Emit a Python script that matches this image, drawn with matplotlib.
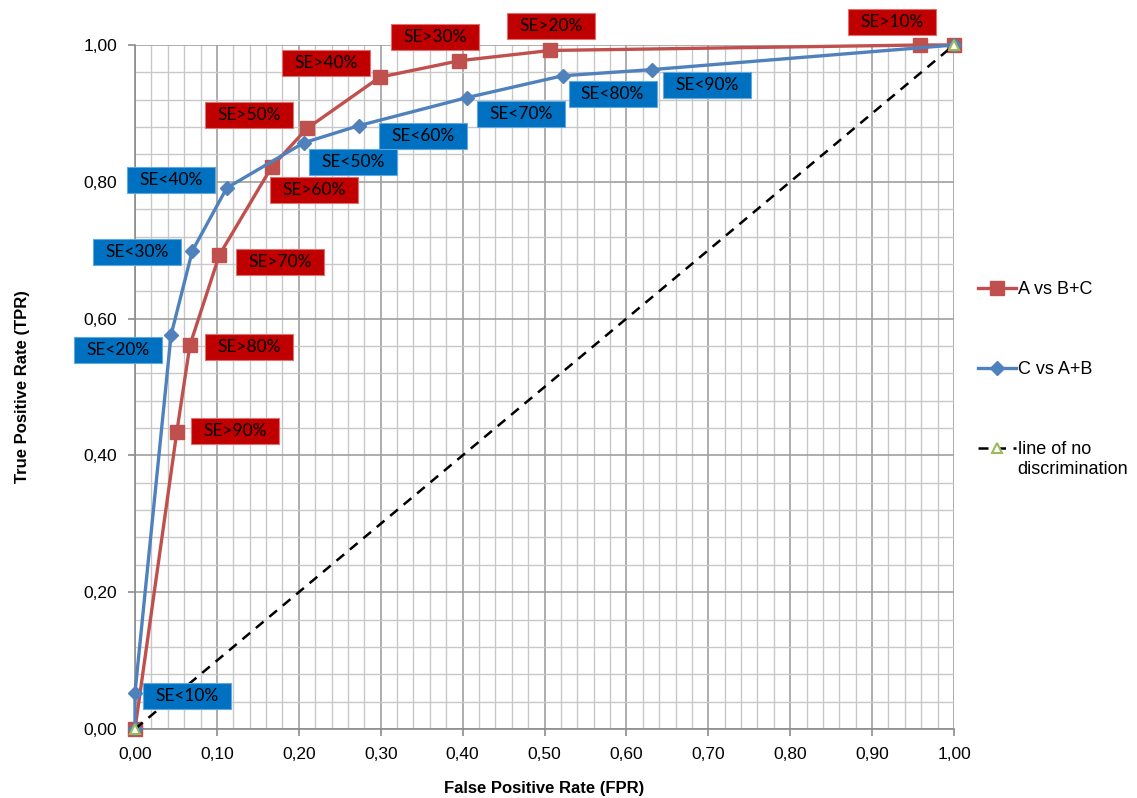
import matplotlib
matplotlib.use('Agg')
from matplotlib import pyplot as plt
from matplotlib.patches import Rectangle
from matplotlib.transforms import offset_copy
from matplotlib.ticker import MultipleLocator, FuncFormatter

plt.rcParams['font.family'] = ['Liberation Sans', 'DejaVu Sans']

# ROC points
fpr_a = [0.0, 0.051, 0.067, 0.103, 0.167, 0.210, 0.299, 0.396, 0.507, 0.959, 1.0]
tpr_a = [0.0, 0.434, 0.561, 0.693, 0.822, 0.878, 0.953, 0.977, 0.992, 1.0, 1.0]
labels_a = ['', 'SE>90%', 'SE>80%', 'SE>70%', 'SE>60%', 'SE>50%',
            'SE>40%', 'SE>30%', 'SE>20%', 'SE>10%', '']

fpr_c = [0.0, 0.0, 0.044, 0.070, 0.112, 0.206, 0.273, 0.405, 0.522, 0.631, 1.0]
tpr_c = [0.0, 0.053, 0.576, 0.699, 0.791, 0.857, 0.882, 0.923, 0.955, 0.964, 1.0]
labels_c = ['', 'SE<10%', 'SE<20%', 'SE<30%', 'SE<40%', 'SE<50%',
            'SE<60%', 'SE<70%', 'SE<80%', 'SE<90%', '']

diag = [0.0, 1.0]

# label box offsets from their point, in pixels
offs_a = [None, (58, 1), (59, -2), (61, -7), (42, -23), (-58, 13),
          (-54, 14), (-24, 24), (1, 24), (-28, 23), None]
offs_c = [None, (52, -3), (-53, -15), (-55, -1), (-56, 8), (49, -19),
          (64, -10), (54, -16), (50, -18), (55, -15), None]

fig = plt.figure(figsize=(11.37, 7.98), dpi=100)
ax = fig.add_axes([135 / 1137, 1 - 729 / 798, 819 / 1137, 684 / 798])

ax.plot(fpr_a, tpr_a, color='#C0504D', lw=2.4, marker='s', ms=10,
        label='A vs B+C', zorder=3, clip_on=False)
ax.plot(fpr_c, tpr_c, color='#4F81BD', lw=2.4, marker='D', ms=7.5,
        label='C vs A+B', zorder=4, clip_on=False)
ax.plot(diag, diag, color='black', lw=1.8, ls=(0, (4, 3)), marker='^', ms=7,
        mfc='white', mec='#9BBB59', mew=1.5,
        label='line of no\ndiscrimination', zorder=5, clip_on=False)

ax.set_xlim(0, 1)
ax.set_ylim(0, 1)
ax.xaxis.set_major_locator(MultipleLocator(0.1))
ax.xaxis.set_minor_locator(MultipleLocator(0.02))
ax.yaxis.set_major_locator(MultipleLocator(0.2))
ax.yaxis.set_minor_locator(MultipleLocator(0.04))
fmt = FuncFormatter(lambda v, p: f'{v:.2f}'.replace('.', ','))
ax.xaxis.set_major_formatter(fmt)
ax.yaxis.set_major_formatter(fmt)
ax.grid(which='minor', color='#C8C8C8', lw=1.0)
ax.grid(which='major', color='#A0A0A0', lw=1.2)
ax.set_axisbelow(True)
for s in ['top', 'right']:
    ax.spines[s].set_visible(False)
for s in ['left', 'bottom']:
    ax.spines[s].set_color('#8C8C8C')
    ax.spines[s].set_linewidth(1.2)
ax.tick_params(which='major', length=5, color='#8C8C8C', width=1.2,
               labelsize=12.5, pad=8)
ax.tick_params(which='minor', length=0)

ax.set_xlabel('False Positive Rate (FPR)', fontsize=12, fontweight='bold',
              labelpad=14)
ax.set_ylabel('True Positive Rate (TPR)', fontsize=12, fontweight='bold',
              labelpad=38)

bw, bh = 88 / 819, 26 / 684


def add_labels(xs, ys, labels, offs, face, edge):
    for x, y, lab, o in zip(xs, ys, labels, offs):
        if not lab:
            continue
        tr = offset_copy(ax.transData, fig=fig, x=o[0], y=o[1], units='dots')
        ax.add_patch(Rectangle((x - bw / 2, y - bh / 2), bw, bh, transform=tr,
                               facecolor=face, edgecolor=edge, lw=0.8,
                               clip_on=False, zorder=6))
        ax.text(x, y, lab, transform=tr, ha='center', va='center',
                fontsize=12.5, family=['Lato', 'DejaVu Sans'], color='black',
                zorder=7, clip_on=False)


add_labels(fpr_a, tpr_a, labels_a, offs_a, '#C00000', '#E07070')
add_labels(fpr_c, tpr_c, labels_c, offs_c, '#0070C0', '#60A8E0')

leg = fig.legend(loc='upper left', bbox_to_anchor=(978 / 1137, 1 - 281 / 798),
                 frameon=False, fontsize=13, handlelength=2.1,
                 handletextpad=0.1, labelspacing=3.5, borderpad=0,
                 borderaxespad=0)
# handle of the two-line entry sits at its first line
leg._legend_handle_box.get_children()[0].get_children()[2].align = 'top'

fig.savefig('out.png', dpi=100)
